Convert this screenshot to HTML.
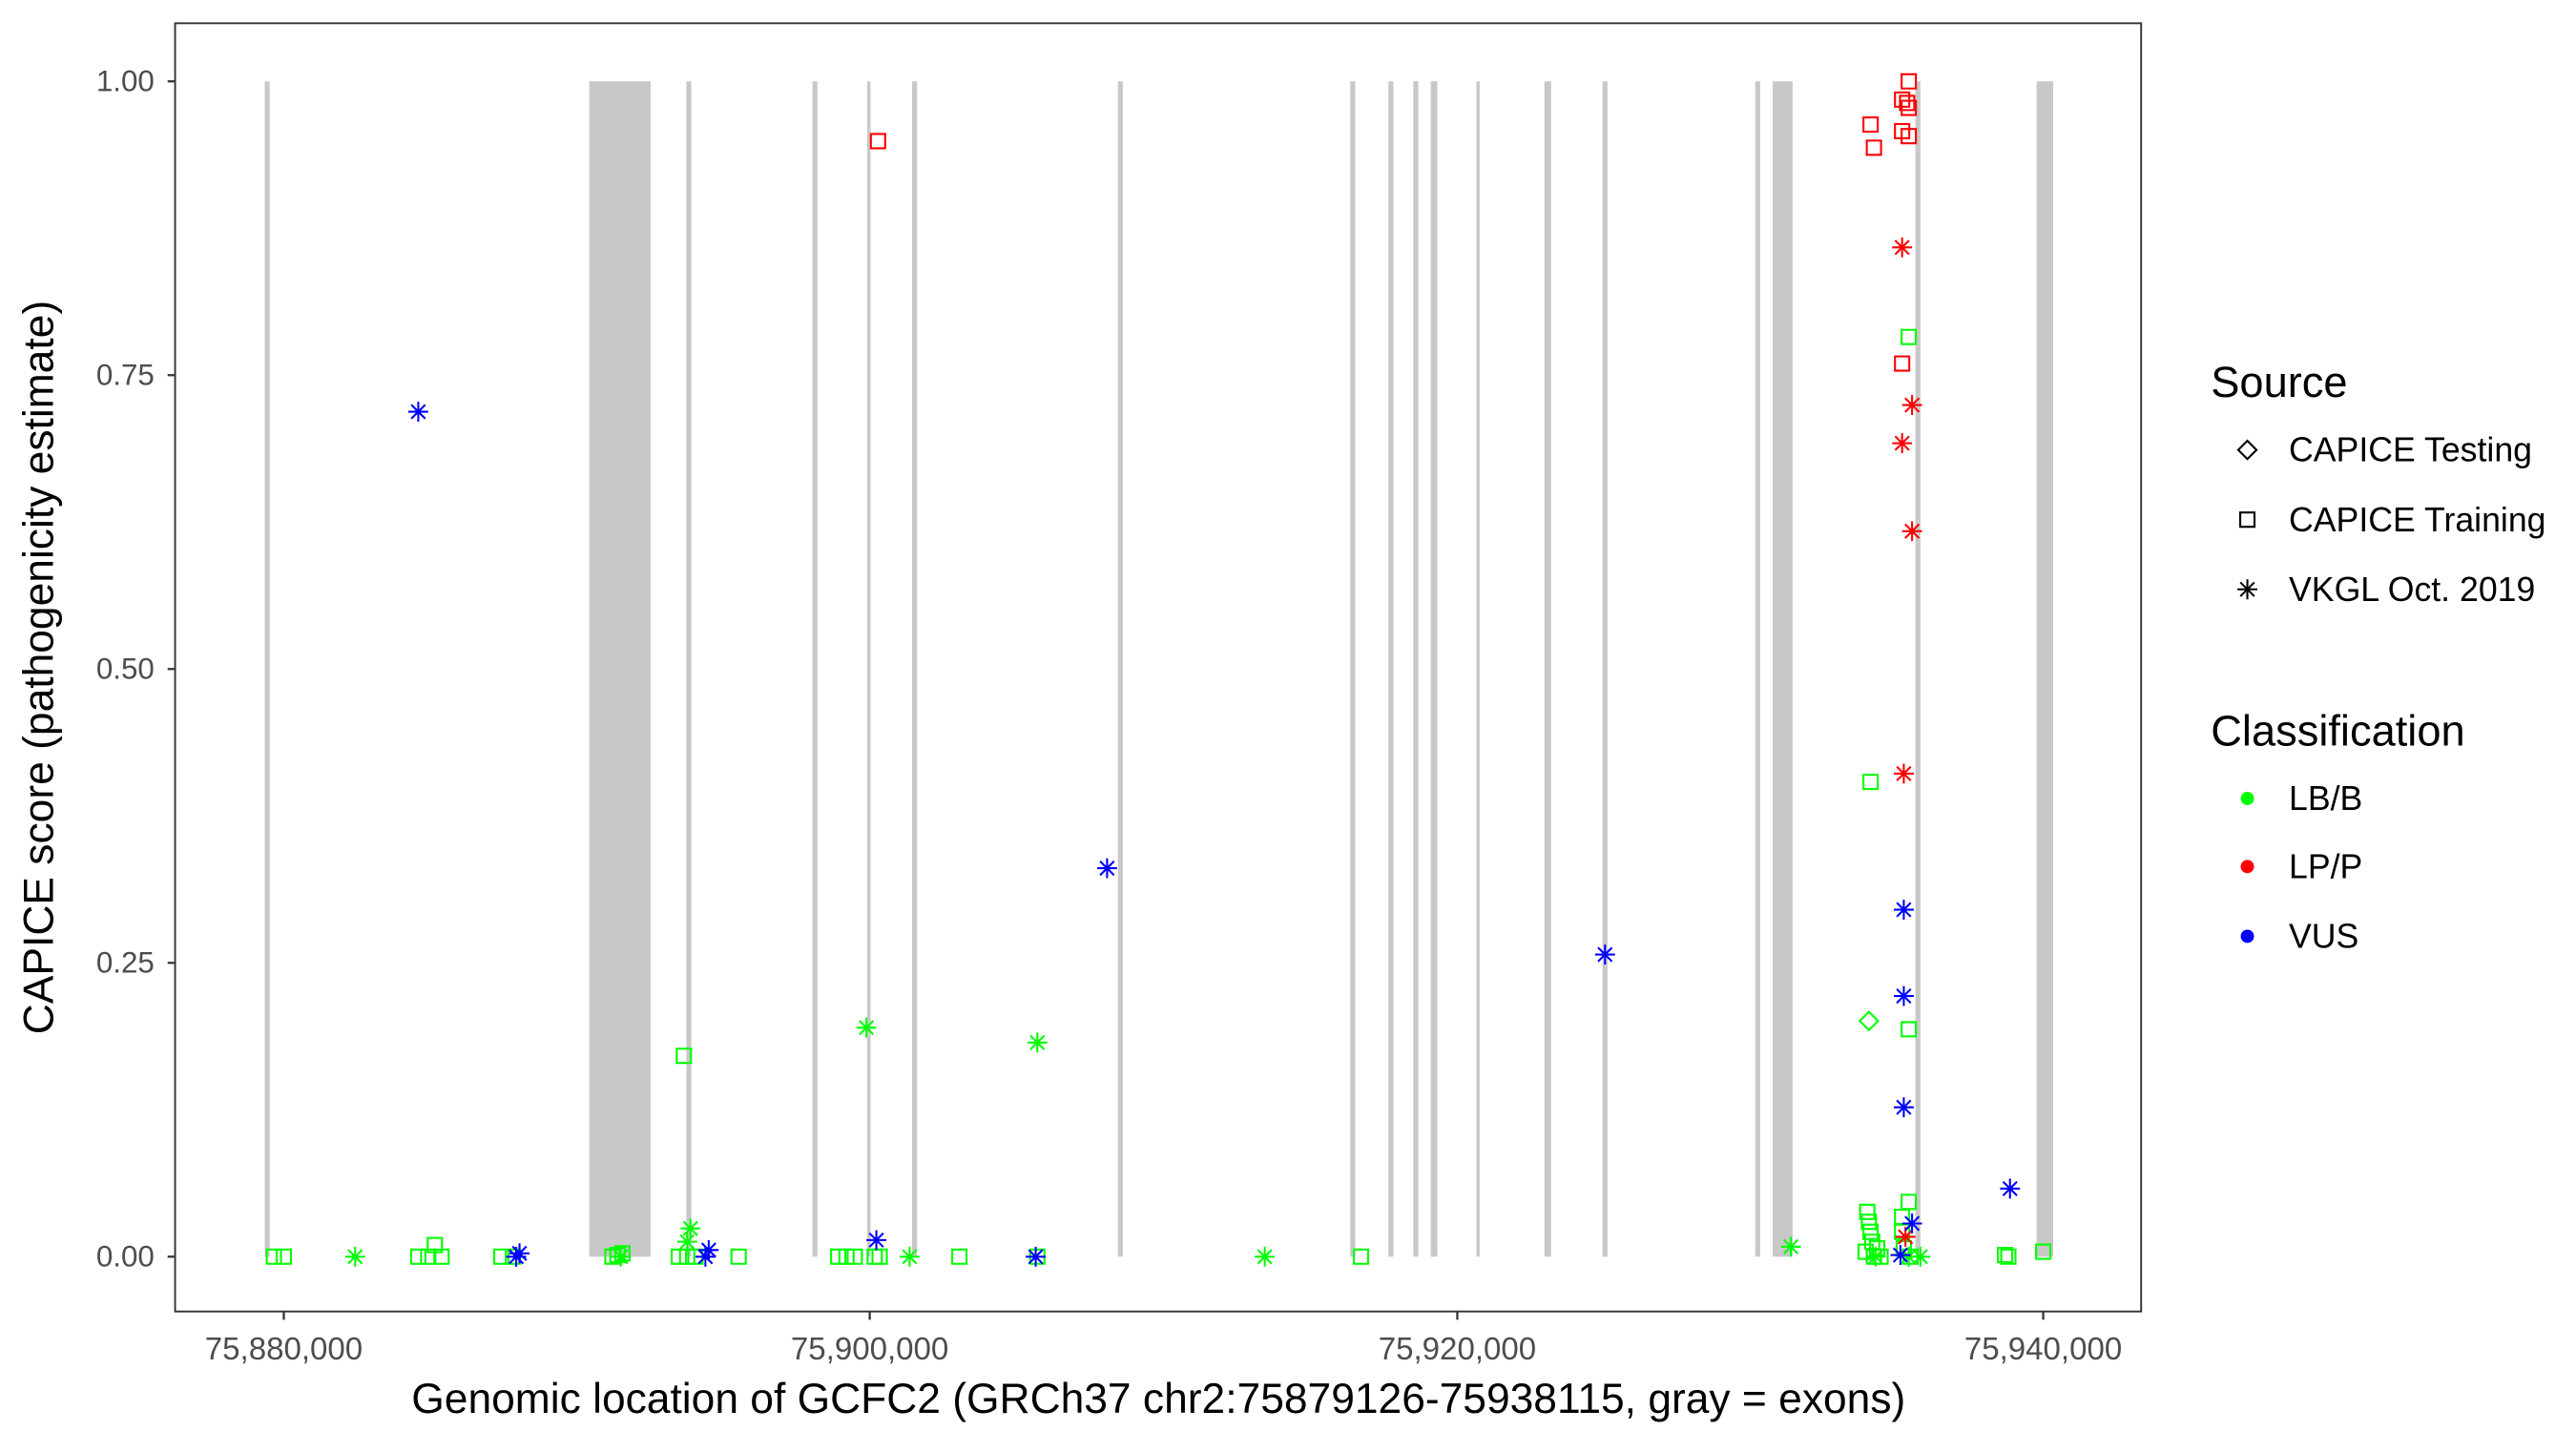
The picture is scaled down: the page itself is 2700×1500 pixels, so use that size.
<!DOCTYPE html>
<html><head><meta charset="utf-8"><style>
html,body{margin:0;padding:0;background:#fff}
svg{display:block}
text{font-family:"Liberation Sans",Arial,sans-serif}
</style></head><body>
<svg width="2700" height="1500" viewBox="0 0 1552 862" preserveAspectRatio="none" xmlns="http://www.w3.org/2000/svg">
<defs>
<path id="sq" d="M-4.3,-4.3h8.6v8.6h-8.6z" fill="none" stroke-width="1.2"/>
<path id="as" d="M-6,0H6M0,-6V6M-4.2,-4.2L4.2,4.2M-4.2,4.2L4.2,-4.2" fill="none" stroke-width="1.2"/>
<path id="di" d="M0,-5.5L5.5,0L0,5.5L-5.5,0Z" fill="none" stroke-width="1.2"/>
</defs>
<rect width="1552" height="862" fill="#fff"/>
<g fill="#c8c8c8">
<rect x="159.5" y="49" width="3" height="708"/>
<rect x="355" y="49" width="37" height="708"/>
<rect x="413.5" y="49" width="3" height="708"/>
<rect x="489.5" y="49" width="3" height="708"/>
<rect x="522.5" y="49" width="2" height="708"/>
<rect x="549.5" y="49" width="3" height="708"/>
<rect x="673.5" y="49" width="3" height="708"/>
<rect x="813.5" y="49" width="3" height="708"/>
<rect x="836.5" y="49" width="3" height="708"/>
<rect x="851.5" y="49" width="3" height="708"/>
<rect x="862" y="49" width="4" height="708"/>
<rect x="889.5" y="49" width="2" height="708"/>
<rect x="930.5" y="49" width="4" height="708"/>
<rect x="965.5" y="49" width="3" height="708"/>
<rect x="1057.5" y="49" width="3" height="708"/>
<rect x="1068" y="49" width="12" height="708"/>
<rect x="1154" y="49" width="3" height="708"/>
<rect x="1227" y="49" width="10" height="708"/>
</g>
<g stroke="#00ff00">
<use href="#sq" x="165" y="757"/><use href="#sq" x="171" y="757"/>
<use href="#sq" x="252" y="757"/><use href="#sq" x="258" y="757"/><use href="#sq" x="262" y="750"/><use href="#sq" x="266" y="757"/>
<use href="#sq" x="302" y="757"/><use href="#sq" x="309" y="757"/>
<use href="#sq" x="369" y="757"/><use href="#sq" x="372" y="756"/><use href="#sq" x="375" y="755"/>
<use href="#sq" x="409" y="757"/><use href="#sq" x="414" y="757"/><use href="#sq" x="419" y="757"/>
<use href="#sq" x="445" y="757"/>
<use href="#sq" x="505" y="757"/><use href="#sq" x="510" y="757"/><use href="#sq" x="515" y="757"/>
<use href="#sq" x="527" y="757"/><use href="#sq" x="530" y="757"/>
<use href="#sq" x="578" y="757"/><use href="#sq" x="625" y="757"/><use href="#sq" x="820" y="757"/>
<use href="#sq" x="412" y="636"/><use href="#sq" x="1127" y="471"/><use href="#sq" x="1150" y="203"/><use href="#sq" x="1150" y="620"/>
<use href="#sq" x="1125" y="730"/><use href="#sq" x="1126" y="736"/><use href="#sq" x="1127" y="742"/><use href="#sq" x="1128" y="748"/><use href="#sq" x="1124" y="754"/><use href="#sq" x="1129" y="757"/><use href="#sq" x="1133" y="757"/><use href="#sq" x="1131" y="752"/>
<use href="#sq" x="1146" y="733"/><use href="#sq" x="1150" y="724"/><use href="#sq" x="1146" y="742"/><use href="#sq" x="1147" y="752"/><use href="#sq" x="1151" y="757"/>
<use href="#sq" x="1208" y="756"/><use href="#sq" x="1210" y="757"/><use href="#sq" x="1231" y="754"/>
<use href="#as" x="214" y="757"/><use href="#as" x="416" y="740"/><use href="#as" x="414" y="748"/><use href="#as" x="374" y="757"/>
<use href="#as" x="522" y="619"/><use href="#as" x="625" y="628"/><use href="#as" x="548" y="757"/><use href="#as" x="762" y="757"/>
<use href="#as" x="1079" y="751"/><use href="#as" x="1130" y="757"/><use href="#as" x="1150" y="757"/><use href="#as" x="1157" y="757"/>
<use href="#di" x="1126" y="615"/>
</g>
<g stroke="#ff0000">
<use href="#sq" x="529" y="85"/><use href="#sq" x="1127" y="75"/><use href="#sq" x="1129" y="89"/><use href="#sq" x="1150" y="49"/>
<use href="#sq" x="1146" y="60"/><use href="#sq" x="1149" y="62"/><use href="#sq" x="1150" y="65"/><use href="#sq" x="1146" y="79"/><use href="#sq" x="1150" y="82"/><use href="#sq" x="1146" y="219"/>
<use href="#as" x="1146" y="149"/><use href="#as" x="1152" y="244"/><use href="#as" x="1146" y="267"/><use href="#as" x="1152" y="320"/><use href="#as" x="1147" y="466"/><use href="#as" x="1148" y="745"/>
</g>
<g stroke="#0000ff">
<use href="#as" x="252" y="248"/><use href="#as" x="311" y="757"/><use href="#as" x="313" y="755"/><use href="#as" x="427" y="753"/><use href="#as" x="425" y="757"/>
<use href="#as" x="528" y="747"/><use href="#as" x="624" y="757"/><use href="#as" x="667" y="523"/><use href="#as" x="967" y="575"/>
<use href="#as" x="1147" y="548"/><use href="#as" x="1147" y="600"/><use href="#as" x="1147" y="667"/><use href="#as" x="1211" y="716"/><use href="#as" x="1152" y="737"/><use href="#as" x="1145" y="756"/>
</g>
<rect x="105.5" y="14" width="1184.5" height="776" fill="none" stroke="#333" stroke-width="1.1"/>
<g stroke="#333" stroke-width="1.3">
<line x1="101" y1="49" x2="105" y2="49"/><line x1="101" y1="226" x2="105" y2="226"/><line x1="101" y1="403" x2="105" y2="403"/><line x1="101" y1="580" x2="105" y2="580"/><line x1="101" y1="757" x2="105" y2="757"/>
<line x1="171" y1="790" x2="171" y2="795"/><line x1="524" y1="790" x2="524" y2="795"/><line x1="878" y1="790" x2="878" y2="795"/><line x1="1231" y1="790" x2="1231" y2="795"/>
</g>
<g fill="#4d4d4d" font-size="18" text-anchor="end">
<text x="93" y="55">1.00</text><text x="93" y="232">0.75</text><text x="93" y="409">0.50</text><text x="93" y="586">0.25</text><text x="93" y="763">0.00</text>
</g>
<g fill="#4d4d4d" font-size="19" text-anchor="middle">
<text x="171" y="819">75,880,000</text><text x="524" y="819">75,900,000</text><text x="878" y="819">75,920,000</text><text x="1231" y="819">75,940,000</text>
</g>
<text x="698" y="851" font-size="25.5" text-anchor="middle" fill="#000">Genomic location of GCFC2 (GRCh37 chr2:75879126-75938115, gray = exons)</text>
<text transform="translate(32,402) rotate(-90)" font-size="25.5" text-anchor="middle" fill="#000">CAPICE score (pathogenicity estimate)</text>
<text x="1332" y="239" font-size="26" fill="#000">Source</text>
<g stroke="#000"><use href="#di" x="1354" y="271"/><use href="#sq" x="1354" y="313"/><use href="#as" x="1354" y="355"/></g>
<g font-size="20.5" fill="#000">
<text x="1379" y="278">CAPICE Testing</text><text x="1379" y="320">CAPICE Training</text><text x="1379" y="362">VKGL Oct. 2019</text>
</g>
<text x="1332" y="449" font-size="26" fill="#000">Classification</text>
<circle cx="1354" cy="481" r="4" fill="#00ff00"/><circle cx="1354" cy="522" r="4" fill="#ff0000"/><circle cx="1354" cy="564" r="4" fill="#0000ff"/>
<g font-size="20.5" fill="#000">
<text x="1379" y="488">LB/B</text><text x="1379" y="529">LP/P</text><text x="1379" y="571">VUS</text>
</g>
</svg>
</body></html>
